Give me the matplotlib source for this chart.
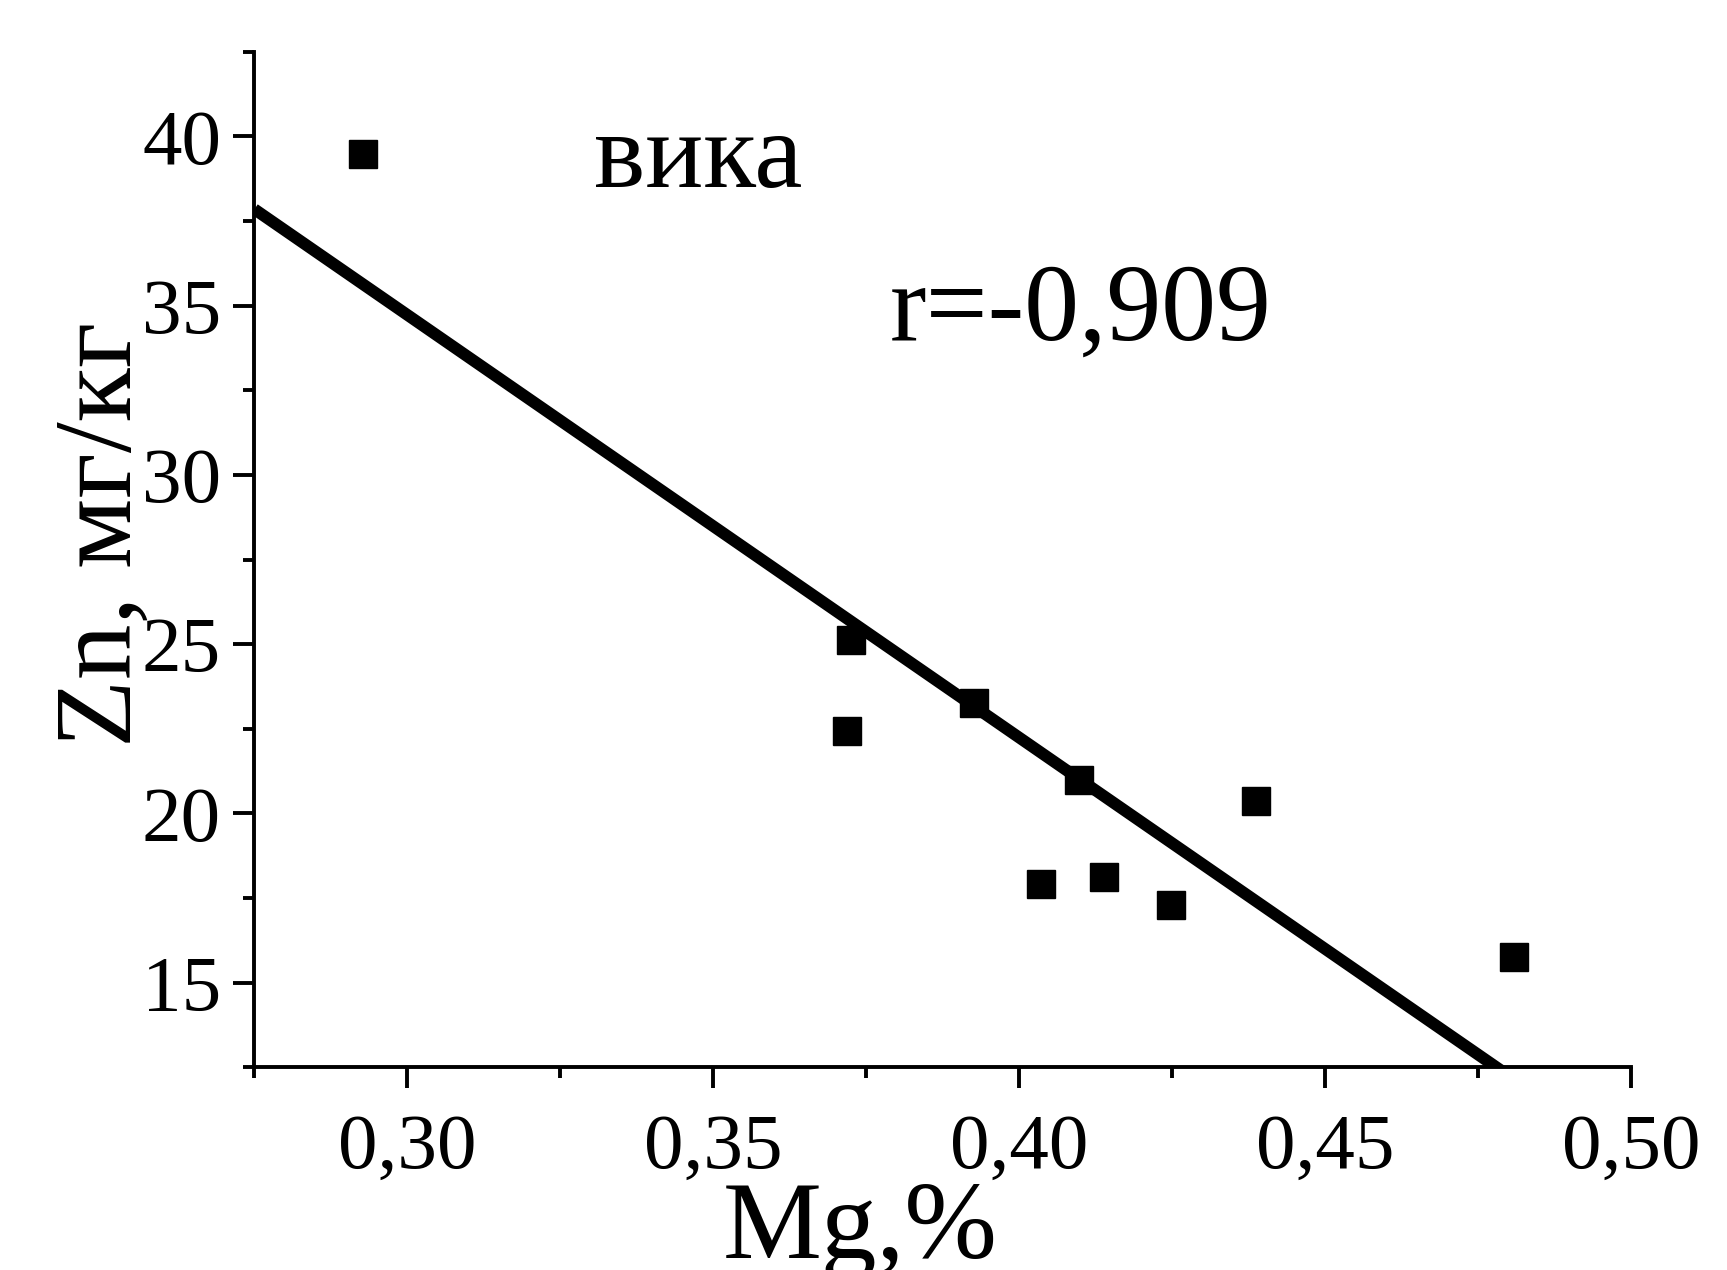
import numpy as np
import matplotlib
matplotlib.use('Agg')
import matplotlib.pyplot as plt
from matplotlib.ticker import MultipleLocator, FixedLocator, FixedFormatter

# Данные: Mg (%) и Zn (мг/кг)
mg = [0.2928, 0.3725, 0.3718, 0.3926, 0.4097, 0.4036, 0.4138, 0.4248, 0.4387, 0.4809]
zn = [39.48, 25.13, 22.44, 23.26, 20.98, 17.92, 18.11, 17.30, 20.36, 15.75]

# Линия регрессии (концы)
fit_x = [0.275, 0.48]
fit_y = [37.85, 12.25]

x_ticks = [0.30, 0.35, 0.40, 0.45, 0.50]
x_tick_labels = ['0,30', '0,35', '0,40', '0,45', '0,50']
y_ticks = [15, 20, 25, 30, 35, 40]
y_tick_labels = ['15', '20', '25', '30', '35', '40']

plt.rcParams['font.family'] = ['Liberation Serif', 'DejaVu Serif']

fig = plt.figure(figsize=(17.27, 12.70), dpi=100)
ax = fig.add_axes([0.1473, 0.1596, 0.7972, 0.7996])

ax.plot(fit_x, fit_y, color='black', lw=8.5, solid_capstyle='butt')
ax.plot(mg, zn, 's', color='black', markersize=20, linestyle='none')

ax.set_xlim(0.275, 0.50)
ax.set_ylim(12.5, 42.5)

ax.xaxis.set_major_locator(FixedLocator(x_ticks))
ax.xaxis.set_major_formatter(FixedFormatter(x_tick_labels))
ax.yaxis.set_major_locator(FixedLocator(y_ticks))
ax.yaxis.set_major_formatter(FixedFormatter(y_tick_labels))
ax.xaxis.set_minor_locator(MultipleLocator(0.025))
ax.yaxis.set_minor_locator(MultipleLocator(2.5))

ax.spines['top'].set_visible(False)
ax.spines['right'].set_visible(False)
ax.spines['left'].set_linewidth(2.8)
ax.spines['bottom'].set_linewidth(2.8)

ax.tick_params(which='major', direction='out', length=15, width=2.8, labelsize=57)
ax.tick_params(which='minor', direction='out', length=8, width=2.8)
ax.tick_params(axis='x', which='major', pad=18)
ax.tick_params(axis='y', which='major', pad=9)

ax.set_xlabel('Mg,%', fontsize=80)
ax.xaxis.set_label_coords(0.44, -0.112)
ax.set_ylabel('Zn, мг/кг', fontsize=80)
ax.yaxis.set_label_coords(-0.073, 0.525)

ax.text(0.247, 0.867, 'вика', transform=ax.transAxes, fontsize=78, va='baseline', ha='left')
ax.text(0.4616, 0.717, 'r=-0,909', transform=ax.transAxes, fontsize=79, va='baseline', ha='left')

fig.savefig('out.png', dpi=100)
